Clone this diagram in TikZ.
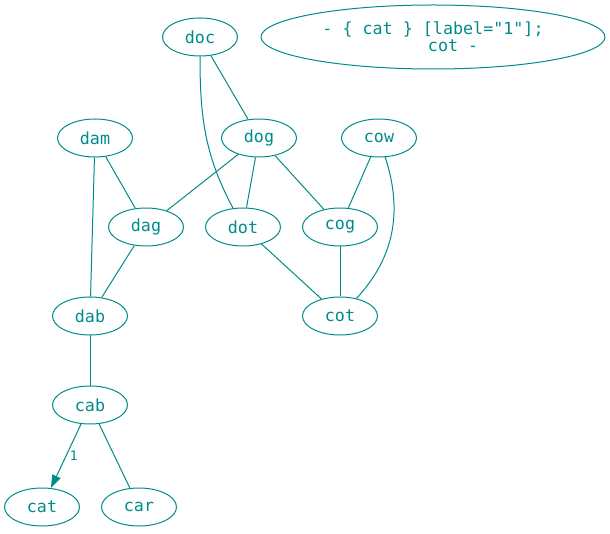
\documentclass[tikz,border=0pt]{standalone}
\usepackage{fontspec}
\usepackage{tikz}
\usetikzlibrary{shapes.geometric,arrows.meta}
\newfontfamily\dotfont{DejaVu Sans Mono}
\definecolor{darkcyan}{HTML}{008B8B}
\tikzset{
	word/.style={ellipse, draw=darkcyan, text=darkcyan, line width=1pt, minimum width=75pt, minimum height=38pt, inner sep=0pt, font=\dotfont\fontsize{16.7}{17}\selectfont},
	link/.style={draw=darkcyan, line width=1pt}
}

\begin{document}
\begin{tikzpicture}[x=1pt, y=1pt]
			%%%%% START %%%%%
			\useasboundingbox (0, 0) rectangle (610, 533);
			
			\node[word] (doc) at (200, 496) {doc};
			\node[word, minimum width=344pt, minimum height=64pt, align=center] (note) at (433, 496) {- \{ cat \} [label="1"];\\\ \ \ \ cot -};
			
			\node[word] (dam) at (95, 395) {dam};
			\node[word] (dog) at (259, 395) {dog};
			\node[word] (cow) at (379, 395) {cow};
			
			\node[word] (dag) at (146, 306) {dag};
			\node[word] (dot) at (243, 306) {dot};
			\node[word] (cog) at (340, 306) {cog};
			
			\node[word] (dab) at (90, 217) {dab};
			\node[word] (cot) at (340, 217) {cot};
			
			\node[word] (cab) at (90, 128) {cab};
			\node[word] (cat) at (42, 26) {cat};
			\node[word] (car) at (139, 26) {car};
			
			\draw[link] (doc) -- (dog);
			\draw[link] (doc) to[out=-90, in=118] (dot);
			\draw[link] (dam) -- (dag);
			\draw[link] (dam) -- (dab);
			\draw[link] (dog) -- (dag);
			\draw[link] (dog) -- (dot);
			\draw[link] (dog) -- (cog);
			\draw[link] (cow) -- (cog);
			\draw[link] (cow) to[out=-72, in=47] (cot);
			\draw[link] (dag) -- (dab);
			\draw[link] (dot) -- (cot);
			\draw[link] (cog) -- (cot);
			\draw[link] (dab) -- (cab);
			\draw[link] (cab) -- (car);
			
			\draw[link, -{Triangle[length=13pt, width=9pt]}, fill=darkcyan] (cab) -- node[midway, right=0pt, text=darkcyan, font=\dotfont\fontsize{13}{13}\selectfont] {1} (cat);
			
			%%%%% END %%%%%
\end{tikzpicture}
\end{document}
